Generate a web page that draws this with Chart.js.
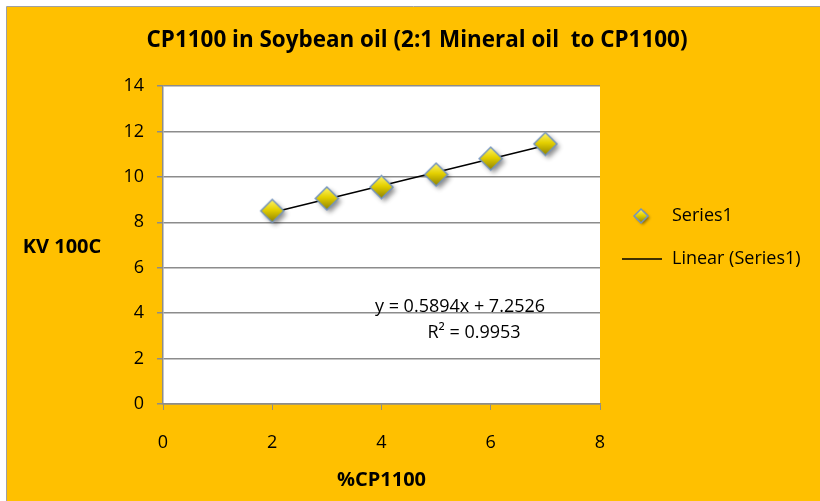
<!DOCTYPE html>
<html>
<head>
<meta charset="utf-8">
<script src="https://cdn.jsdelivr.net/npm/chart.js@4.4.1/dist/chart.umd.min.js"></script>
<style>
  html, body { margin: 0; padding: 0; background: #fff; }
  canvas { display: block; }
</style>
</head>
<body>
<canvas id="myChart" width="820" height="501"></canvas>
<script>
const percentCP = [2, 3, 4, 5, 6, 7];
const kv100 = [8.5, 9.05, 9.55, 10.1, 10.8, 11.45];
const trendX = [2, 7];
const trendY = [8.43, 11.38];
const seriesLabels = ["Series1", "Linear (Series1)"];
const chartTitle = "CP1100 in Soybean oil (2:1 Mineral oil  to CP1100)";
const xTitle = "%CP1100";
const yTitle = "KV 100C";
const equationLines = ["y = 0.5894x + 7.2526", "R\u00B2 = 0.9953"];

const ORANGE = "#FFC000";
const GRID = "#8c8c8c";
const FONT = "'Open Sans', 'Noto Sans', sans-serif";

// diamond marker with gradient and soft shadow, like the excel one
function makeDiamond(r, blur) {
    const pad = blur * 2 + 2;
    const c = document.createElement("canvas");
    c.width = c.height = 2 * (r + pad);
    const g = c.getContext("2d");
    const m = r + pad;
    g.beginPath();
    g.moveTo(m, m - r);
    g.lineTo(m + r, m);
    g.lineTo(m, m + r);
    g.lineTo(m - r, m);
    g.closePath();
    const grad = g.createLinearGradient(0, m - r, 0, m + r);
    grad.addColorStop(0, "#fff46a");
    grad.addColorStop(0.45, "#e4d000");
    grad.addColorStop(1, "#8c8000");
    g.shadowColor = "rgba(0,0,0,0.45)";
    g.shadowBlur = blur;
    g.shadowOffsetX = blur * 0.6;
    g.shadowOffsetY = blur * 0.6;
    g.fillStyle = grad;
    g.fill();
    g.shadowColor = "transparent";
    g.lineWidth = 1.5;
    g.strokeStyle = "#7393bd";
    g.stroke();
    return c;
}
const bigMarker = makeDiamond(11.5, 5);
const smallMarker = makeDiamond(7, 3);

const decor = {
    id: "decor",
    beforeDraw(chart) {
        const {ctx, chartArea: a} = chart;
        ctx.save();
        ctx.fillStyle = "#fff";
        ctx.fillRect(0, 0, chart.width, chart.height);
        ctx.fillStyle = ORANGE;
        ctx.fillRect(7, 7, chart.width - 7, chart.height - 7);
        ctx.strokeStyle = "#a0a0a0";
        ctx.lineWidth = 1;
        ctx.beginPath();
        ctx.moveTo(6.5, chart.height);
        ctx.lineTo(6.5, 6.5);
        ctx.lineTo(chart.width, 6.5);
        ctx.stroke();
        ctx.fillStyle = "#fff";
        ctx.fillRect(a.left, a.top, a.right - a.left, a.bottom - a.top);
        ctx.restore();
    },
    afterDraw(chart) {
        const ctx = chart.ctx;
        ctx.save();
        ctx.fillStyle = "#000";
        ctx.textBaseline = "middle";
        ctx.textAlign = "center";
        // title
        ctx.font = "bold 23px " + FONT;
        ctx.fillText(chartTitle, 417, 40, 541);
        // horizontal y axis title
        ctx.font = "bold 20px " + FONT;
        ctx.fillText(yTitle, 62, 247);
        // trendline equation
        ctx.font = "18px " + FONT;
        ctx.fillText(equationLines[0], 460, 307);
        ctx.fillText(equationLines[1], 474, 333);
        // legend
        ctx.textAlign = "left";
        ctx.drawImage(smallMarker, 641 - smallMarker.width / 2, 216 - smallMarker.height / 2);
        ctx.fillText(seriesLabels[0], 672, 216);
        ctx.strokeStyle = "#000";
        ctx.lineWidth = 1.5;
        ctx.beginPath();
        ctx.moveTo(622, 259);
        ctx.lineTo(662, 259);
        ctx.stroke();
        ctx.fillText(seriesLabels[1], 672, 259);
        ctx.restore();
    }
};

const ctx = document.getElementById("myChart");
const config = {
    type: "scatter",
    data: {
        datasets: [{
            label: seriesLabels[1],
            type: "line",
            data: trendX.map((x, i) => ({x: x, y: trendY[i]})),
            borderColor: "#000",
            borderWidth: 1.5,
            pointRadius: 0,
            fill: false,
            order: 2
        }, {
            label: seriesLabels[0],
            data: percentCP.map((x, i) => ({x: x, y: kv100[i]})),
            pointStyle: bigMarker,
            pointRadius: 12,
            order: 1
        }]
    },
    options: {
        responsive: false,
        animation: false,
        devicePixelRatio: 1,
        layout: {
            padding: {left: 110, top: 86, right: 220, bottom: 0}
        },
        plugins: {
            legend: {display: false},
            title: {display: false},
            tooltip: {enabled: false}
        },
        scales: {
            x: {
                type: "linear",
                min: 0,
                max: 8,
                ticks: {
                    stepSize: 2,
                    color: "#000",
                    padding: 22,
                    font: {family: FONT, size: 18}
                },
                grid: {
                    drawOnChartArea: false,
                    drawTicks: true,
                    tickLength: 6,
                    color: GRID
                },
                border: {color: GRID, width: 1.5},
                title: {
                    display: true,
                    text: xTitle,
                    color: "#000",
                    font: {family: FONT, size: 20, weight: "bold"},
                    padding: {top: 0, bottom: 9}
                },
                afterFit(scale) { scale.height = 97; }
            },
            y: {
                min: 0,
                max: 14,
                ticks: {
                    stepSize: 2,
                    color: "#000",
                    padding: 13,
                    font: {family: FONT, size: 18}
                },
                grid: {
                    tickLength: 6,
                    color: GRID,
                    lineWidth: 1.5
                },
                border: {color: GRID, width: 1.5},
                afterFit(scale) { scale.width = 53; }
            }
        }
    },
    plugins: [decor]
};
const myChart = new Chart(ctx, config);
</script>
</body>
</html>
